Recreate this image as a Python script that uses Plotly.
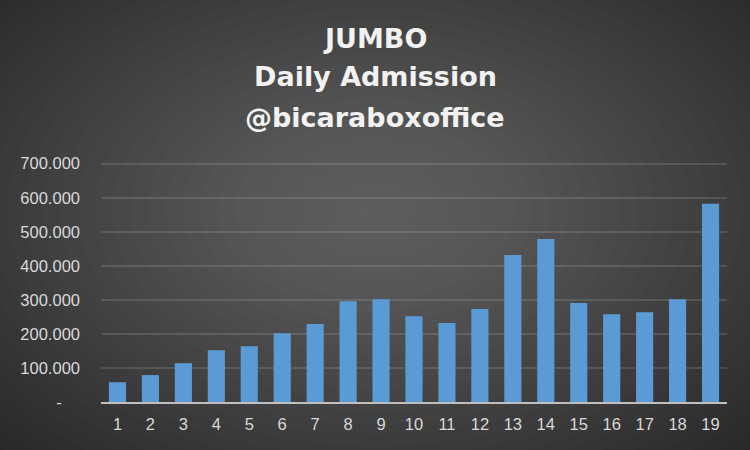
import plotly.graph_objects as go

days = [str(i) for i in range(1, 20)]
admissions = [58000, 79000, 114000, 152000, 164000, 202000, 229000, 296000, 302000,
              252000, 232000, 273000, 432000, 479000, 291000, 258000, 264000, 302000, 582000]
tick_values = [0, 100000, 200000, 300000, 400000, 500000, 600000, 700000]
tick_labels = ["-\u00a0\u00a0\u00a0\u00a0", "100.000", "200.000", "300.000", "400.000",
               "500.000", "600.000", "700.000"]
title_lines = ["JUMBO", "Daily Admission", "@bicaraboxoffice"]

W, H = 750, 450
ML, MR, MT, MB = 101, 23, 162, 48
PW, PH = W - ML - MR, H - MT - MB


def px_to_paper_x(px):
    return (px - ML) / PW


def px_to_paper_y(py):
    return (H - MB - py) / PH


fig = go.Figure()
fig.add_trace(go.Bar(
    x=days, y=admissions,
    marker=dict(color="#5b9bd5", line=dict(width=0)),
    hoverinfo="x+y",
))

# radial background glow built from concentric translucent ellipses
shapes = []
n = 32
cx_px, cy_px = 375, 210
for i in range(n):
    f = 1 - i / n
    rx = 560 * f
    ry = 360 * f
    shapes.append(dict(
        type="circle", xref="paper", yref="paper", layer="below",
        x0=px_to_paper_x(cx_px - rx), x1=px_to_paper_x(cx_px + rx),
        y0=px_to_paper_y(cy_px + ry), y1=px_to_paper_y(cy_px - ry),
        fillcolor="rgba(255,255,255,0.0105)", line=dict(width=0),
    ))

annotations = []
for line, py in zip(title_lines, [38, 77, 117]):
    annotations.append(dict(
        text=line, xref="paper", yref="paper",
        x=px_to_paper_x(375), y=px_to_paper_y(py),
        xanchor="center", yanchor="middle", showarrow=False,
        font=dict(family="DejaVu Sans", size=27, color="#f2f2f2", weight="bold"),
    ))

fig.update_layout(
    width=W, height=H,
    paper_bgcolor="#242424",
    plot_bgcolor="rgba(0,0,0,0)",
    margin=dict(l=ML, r=MR, t=MT, b=MB),
    bargap=0.48,
    showlegend=False,
    shapes=shapes,
    annotations=annotations,
    font=dict(family="Liberation Sans", color="#d9d9d9", size=16),
    xaxis=dict(
        showgrid=False, showline=True, linecolor="#bfbfbf", linewidth=1.5,
        ticks="", tickfont=dict(size=16.5, color="#d9d9d9"), fixedrange=True,
        ticklabelstandoff=6,
    ),
    yaxis=dict(
        range=[0, 705000], tickvals=tick_values, ticktext=tick_labels,
        showgrid=True, gridcolor="rgba(255,255,255,0.12)", gridwidth=1.5,
        zeroline=False, showline=False, ticks="", ticklabelstandoff=20,
        tickfont=dict(size=16.5, color="#d9d9d9"), fixedrange=True,
    ),
)

fig.write_html("out.html", config={"displayModeBar": False},
               post_script="document.body.style.margin='0px';document.body.style.overflow='hidden';")
